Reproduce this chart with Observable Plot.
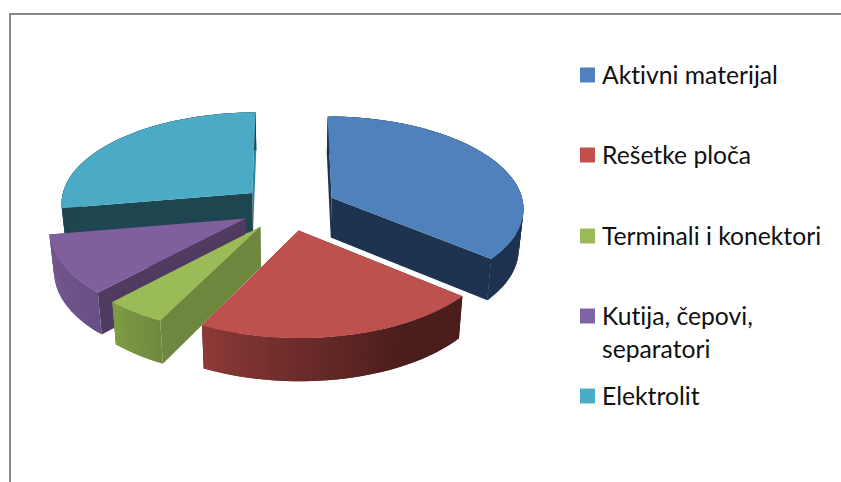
<!DOCTYPE html>
<html>
<head>
<meta charset="utf-8">
<style>
html,body{margin:0;padding:0;background:#fff;overflow:hidden;width:841px;height:482px}
#frame{position:absolute;left:9px;top:13px;width:900px;height:600px;border-left:2px solid #888;border-top:2px solid #888}
#chart{position:absolute;left:0;top:0}
#chart svg{background:transparent;display:block}
#chart svg text{font-variant-ligatures:none;font-feature-settings:"liga" 0}
</style>
<script src="https://cdn.jsdelivr.net/npm/d3@7"></script>
<script src="https://cdn.jsdelivr.net/npm/@observablehq/plot@0.6"></script>
</head>
<body>
<div id="frame"></div>
<div id="chart"></div>
<script>
// Data
const categories = ["Aktivni materijal", "Rešetke ploča", "Terminali i konektori", "Kutija, čepovi,\nseparatori", "Elektrolit"];
const shares = [36, 21.4, 4.6, 10.3, 27.7];
const explosion = 0.25;

// Styles
const topColors = ["#4f81bd", "#be504d", "#9bbb59", "#7f609c", "#4babc6"];
const legendColors = ["#4f81bd", "#c0504d", "#9bbb59", "#8064a2", "#4bacc6"];
const startFace = ["#1d3350", "#4b1e1c", "#6e873e", "#4f3b60", "#1d4650"];
const endFace = ["#1d3350", "#6e2c2a", "#6e873e", "#4f3b60", "#31859b"];
const rimFrom = ["#1d3350", "#4b1e1c", "#6f883f", "#694f87", "#1d4650"];
const rimTo = ["#1d3350", "#8c3a37", "#7f9c45", "#75598f", "#1d4650"];
const legendRows = [75, 155, 236, 316, 396];

// 3D pie projection parameters
const cx = 288, cy = 207, A = 192.5, B = 91.6, k = 0.102, depth = 40, shrink = 0.98;
const lineStep = 33, legendFont = 24.7;
const project = (X, Y, low) => {
  const w = 1 - k * Y, s = low ? shrink : 1;
  return [cx + s * A * X / w, cy + s * B * Y / w + (low ? depth / w : 0)];
};

const total = d3.sum(shares);
const order = [4, 3, 0, 2, 1]; // back to front
let acc = 0;
const slices = shares.map((v, i) => {
  const a0 = acc / total * 2 * Math.PI;
  acc += v;
  return {i, a0, a1: acc / total * 2 * Math.PI};
});

const rows = [];
let pid = 0;
const poly = (pts, color) => {
  const id = pid++;
  for (const [x, y] of [...pts, pts[0]]) rows.push({x, y, id, color});
};
for (const o of order) {
  const {i, a0, a1} = slices[o];
  const m = (a0 + a1) / 2;
  const ex = explosion * Math.sin(m), ey = -explosion * Math.cos(m);
  const P = (a, low) => project(ex + Math.sin(a), ey - Math.cos(a), low);
  const C = low => project(ex, ey, low);
  const face0 = () => poly([C(false), P(a0, false), P(a0, true), C(true)], startFace[i]);
  const face1 = () => poly([C(false), P(a1, false), P(a1, true), C(true)], endFace[i]);
  // the face turned towards the viewer is painted last
  if (Math.sin(m) < 0) { face1(); face0(); } else { face0(); face1(); }
  const n = Math.ceil((a1 - a0) * 40);
  const mix = d3.interpolateRgb(rimFrom[i], rimTo[i]);
  for (let j = 0; j < n; ++j) {
    const u = a0 + (a1 - a0) * j / n;
    const v = a0 + (a1 - a0) * Math.min(n, j + 2) / n; // overlaps the next facet, so no seams show
    const t = (j + 0.5) / n;
    const tt = i === 1 ? Math.max(0, Math.min(1, (t - 0.3) / 0.7)) : t;
    poly([P(u, false), P(v, false), P(v, true), P(u, true)], mix(tt));
  }
  const arc = [C(false)];
  for (let j = 0; j <= n; ++j) arc.push(P(a0 + (a1 - a0) * j / n, false));
  poly(arc, topColors[i]);
}

const legend = categories.map((label, i) => ({label, i, row: legendRows[i], color: legendColors[i]}));

const chart = Plot.plot({
  width: 841,
  height: 482,
  margin: 0,
  x: {domain: [0, 841], range: [0, 841], axis: null},
  y: {domain: [0, 482], range: [0, 482], axis: null},
  color: {type: "identity"},
  style: {background: "transparent"},
  marks: [
    Plot.line(rows, {x: "x", y: "y", z: "id", fill: "color", stroke: "none", curve: "linear"}),
    Plot.rect(legend, {x1: () => 580, x2: () => 595, y1: d => d.row - 7.5, y2: d => d.row + 7.5, fill: "color"}),
    Plot.text(legend, {
      x: () => 601.5,
      y: d => d.row - 2 + (d.label.split("\n").length - 1) * lineStep / 2,
      text: "label",
      textAnchor: "start",
      lineAnchor: "middle",
      lineHeight: lineStep / legendFont,
      fill: "#111",
      fontFamily: "Lato, Carlito, Calibri, sans-serif",
      fontSize: legendFont
    })
  ]
});
document.getElementById("chart").appendChild(chart);
</script>
</body>
</html>
